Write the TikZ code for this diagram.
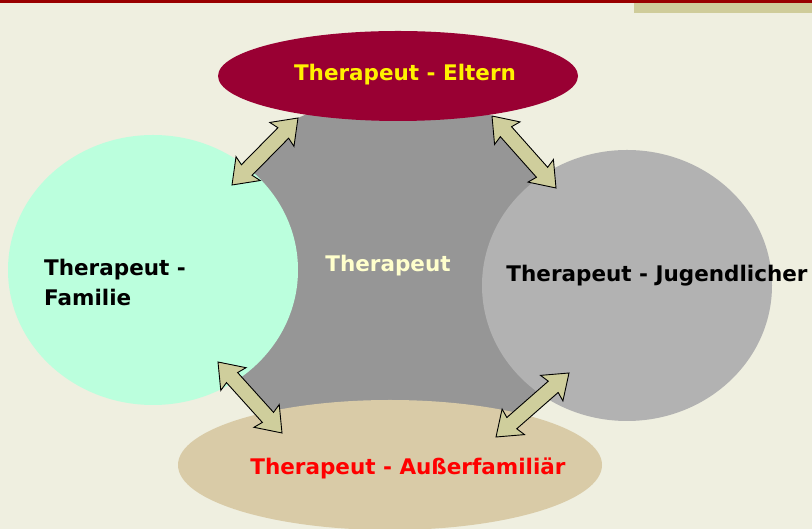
\documentclass[tikz,border=0pt]{standalone}
\usepackage{fontspec}
\setmainfont{DejaVu Sans}
\usetikzlibrary{calc,shapes.geometric}
\definecolor{bgc}{HTML}{EFEFE0}
\definecolor{topline}{HTML}{990000}
\definecolor{tanbar}{HTML}{CFCC9A}
\definecolor{crimson}{HTML}{990033}
\definecolor{mint}{HTML}{BBFFDD}
\definecolor{midgrey}{HTML}{969696}
\definecolor{ltgrey}{HTML}{B2B2B2}
\definecolor{sand}{HTML}{D9CBA7}
\definecolor{arrowfill}{HTML}{CFCE9C}
\definecolor{paleyellow}{HTML}{FFFFCC}
\tikzset{
  blob/.style={ellipse, inner sep=0pt, draw=none},
  lbl/.style={font=\fontsize{21.5}{30}\selectfont\bfseries, inner sep=0pt},
  arrowsty/.style={fill=arrowfill, draw=black, line width=0.9pt, line join=miter}
}
\newcommand\dblarrow[2]{%
  \filldraw[arrowsty] (#1)
  -- ($(#1)!23pt!(#2)!17pt!90:(#2)$)
  -- ($(#1)!21pt!(#2)!7.5pt!90:(#2)$)
  -- ($(#2)!21pt!(#1)!7.5pt!-90:(#1)$)
  -- ($(#2)!23pt!(#1)!17pt!-90:(#1)$)
  -- (#2)
  -- ($(#2)!23pt!(#1)!17pt!90:(#1)$)
  -- ($(#2)!21pt!(#1)!7.5pt!90:(#1)$)
  -- ($(#1)!21pt!(#2)!7.5pt!-90:(#2)$)
  -- ($(#1)!23pt!(#2)!17pt!-90:(#2)$)
  -- cycle;}
\begin{document}
\begin{tikzpicture}[x=1pt,y=1pt]
\useasboundingbox (0,0) rectangle (812,529);
\begin{scope}
\clip (0,0) rectangle (812,529);
\fill[bgc] (0,0) rectangle (812,529);
\fill[topline] (0,525.5) rectangle (812,528.5);
\fill[tanbar] (634,516) rectangle (812,525.5);
% arrow tip coordinates
\coordinate (a1s) at (232,344);
\coordinate (a1e) at (298,411);
\coordinate (a2s) at (492,413);
\coordinate (a2e) at (556,341);
\coordinate (a3s) at (218,167);
\coordinate (a3e) at (282,96);
\coordinate (a4s) at (496,92);
\coordinate (a4e) at (569,156);
% central grey shape
\fill[midgrey] (a1s) -- (a1e) .. controls (360,440) and (440,440) .. (a2s)
  -- (a2e) .. controls (590,280) and (590,220) .. (a4e)
  -- (a4s) .. controls (440,70) and (340,70) .. (a3e)
  -- (a3s) .. controls (200,230) and (200,290) .. (a1s) -- cycle;
% surrounding shapes
\node[blob, fill=crimson, minimum width=360, minimum height=90] (eltern) at (398,453) {};
\node[blob, fill=mint, minimum width=290, minimum height=270] (familie) at (153,259) {};
\node[blob, fill=ltgrey, minimum width=290, minimum height=271] (jugend) at (627,243.5) {};
\node[blob, fill=sand, minimum width=424, minimum height=130] (ausser) at (390,64) {};
% labels
\node[lbl, text=yellow] (teltern) at (405,454) {Therapeut - Eltern};
\node[lbl, text=paleyellow] (tcenter) at (388,263) {Therapeut};
\node[lbl, text=black, anchor=west, align=left] (tfamilie) at (44,247) {Therapeut -\\Familie};
\node[lbl, text=black] (tjugend) at (657,253.5) {Therapeut - Jugendlicher};
\node[lbl, text=red] (tausser) at (408,61) {Therapeut - Außerfamiliär};
% double arrows
\dblarrow{a1s}{a1e}
\dblarrow{a2s}{a2e}
\dblarrow{a3s}{a3e}
\dblarrow{a4s}{a4e}
\end{scope}
\end{tikzpicture}
\end{document}
